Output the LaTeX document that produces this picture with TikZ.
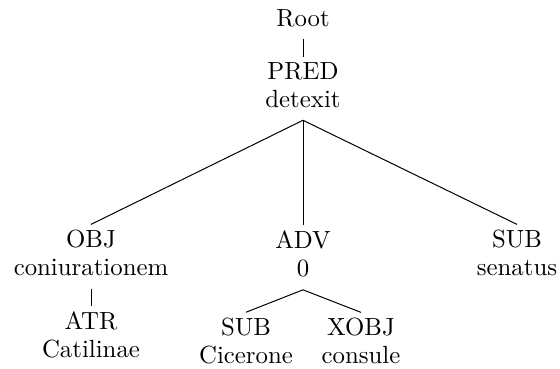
\documentclass[tikz,border=0pt]{standalone}
\begin{document}
\begin{tikzpicture}[x=0.403pt,y=-0.403pt,
  tnode/.style={align=center,inner xsep=1pt,inner ysep=2pt,font=\fontsize{10pt}{11.5pt}\selectfont},
  branch/.style={draw=black,line width=0.4pt}]
\useasboundingbox (0,0) rectangle (560,369);
% nodes: function label over word form
\node[tnode] (root) at (303,18) {Root};
\node[tnode] (pred) at (303,85) {PRED\\detexit};
\node[tnode] (obj)  at (91,253) {OBJ\\coniurationem};
\node[tnode] (adv)  at (303,254) {ADV\\0};
\node[tnode] (sub)  at (517,253) {SUB\\senatus};
\node[tnode] (atr)  at (91,335) {ATR\\Catilinae};
\node[tnode] (subc) at (246,341) {SUB\\Cicerone};
\node[tnode] (xobj) at (361,341) {XOBJ\\consule};
% dependency edges, starting a little below each parent
\draw[branch] ([yshift=-2.8pt]root.south) -- (pred.north);
\draw[branch] ([yshift=-2.8pt]pred.south) -- (obj.north);
\draw[branch] ([yshift=-2.8pt]pred.south) -- (adv.north);
\draw[branch] ([yshift=-2.8pt]pred.south) -- (sub.north);
\draw[branch] ([yshift=-2.8pt]obj.south) -- (atr.north);
\draw[branch] ([yshift=-2.8pt]adv.south) -- (subc.north);
\draw[branch] ([yshift=-2.8pt]adv.south) -- (xobj.north);
\end{tikzpicture}
\end{document}
